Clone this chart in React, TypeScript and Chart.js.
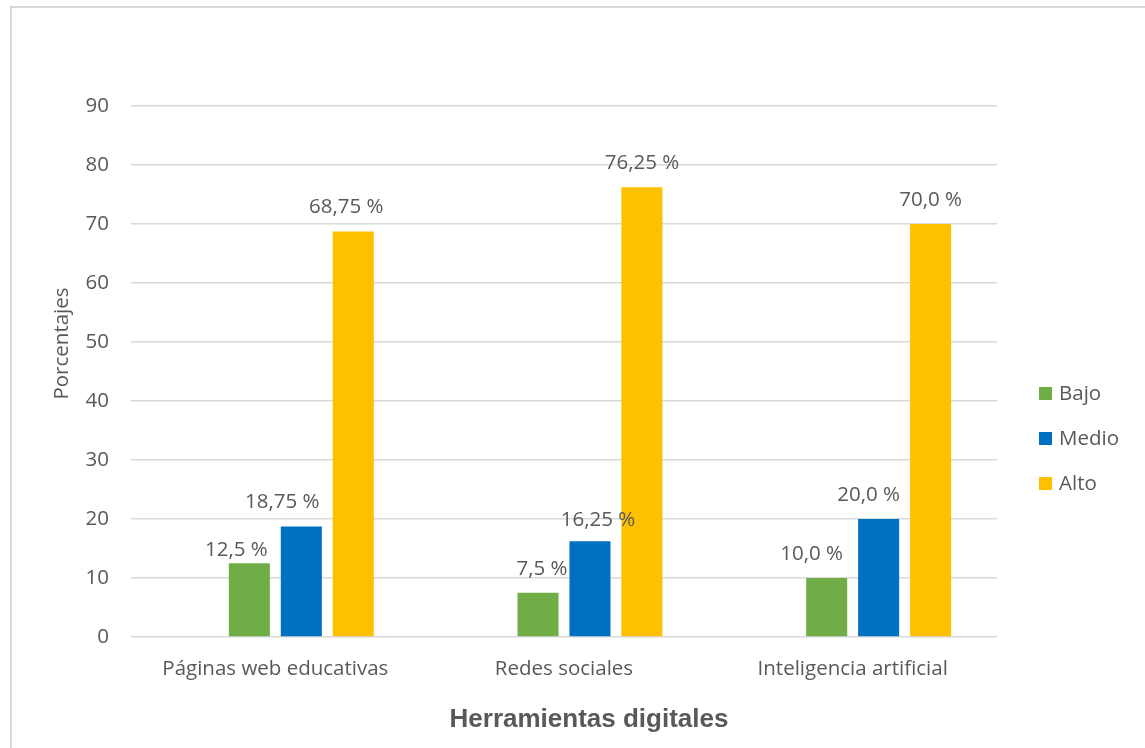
import React, { useEffect, useRef } from "react";
import { Chart, registerables } from "chart.js";

Chart.register(...registerables);

const categories = ["Páginas web educativas", "Redes sociales", "Inteligencia artificial"];
const seriesNames = ["Bajo", "Medio", "Alto"];
const bajo = [12.5, 7.5, 10.0];
const medio = [18.75, 16.25, 20.0];
const alto = [68.75, 76.25, 70.0];
const seriesColors = ["#70AD47", "#0070C0", "#FFC000"];
const yMin = 0;
const yMax = 90;
const yStep = 10;
const yTitle = "Porcentajes";
const xTitle = "Herramientas digitales";

const TEXT = "#595959";
const FONT = "'Open Sans', sans-serif";

function fmt(v: number): string {
  const s = Math.round(v * 100) % 10 !== 0 ? v.toFixed(2) : v.toFixed(1);
  return s.replace(".", ",") + " %";
}

// label nudges [dataset][category] -> [dx, dy]
const labelNudges: number[][][] = [
  [[-13, 11], [4, 0], [-15, 0]],
  [[-19, 0], [8, 3], [-10, 0]],
  [[-7, 0], [0, 0], [0, 0]],
];

const drawPlugin = {
  id: "customText",
  afterDatasetsDraw(chart: any) {
    const ctx = chart.ctx;
    ctx.save();
    ctx.font = `20.5px ${FONT}`;
    ctx.fillStyle = TEXT;
    ctx.textAlign = "center";
    ctx.textBaseline = "alphabetic";
    for (let d = 1; d < chart.data.datasets.length; d++) {
      const meta = chart.getDatasetMeta(d);
      const ds = chart.data.datasets[d];
      meta.data.forEach((el: any, i: number) => {
        const v = ds.data[i];
        if (v == null) return;
        const [dx, dy] = labelNudges[d - 1][i];
        ctx.fillText(fmt(v), el.x + dx, el.y - 18 + dy);
      });
    }
    ctx.restore();
  },
  afterDraw(chart: any) {
    const ctx = chart.ctx;
    const area = chart.chartArea;
    ctx.save();
    // legend
    ctx.font = `20.5px ${FONT}`;
    ctx.textAlign = "left";
    ctx.textBaseline = "alphabetic";
    const baseY = 400;
    seriesNames.forEach((name, i) => {
      const y = baseY + i * 45;
      ctx.fillStyle = seriesColors[i];
      ctx.fillRect(1039, y - 13, 13, 13);
      ctx.fillStyle = TEXT;
      ctx.fillText(name, 1059, y);
    });
    // y title
    ctx.save();
    ctx.translate(67.5, 343.5);
    ctx.rotate(-Math.PI / 2);
    ctx.textAlign = "center";
    ctx.fillStyle = TEXT;
    ctx.fillText(yTitle, 0, 0);
    ctx.restore();
    // x title
    ctx.font = `bold 26px 'Liberation Sans', Arial, sans-serif`;
    ctx.textAlign = "center";
    ctx.fillStyle = TEXT;
    ctx.fillText(xTitle, 589, 727);
    ctx.restore();
  },
};

export default function App() {
  const ref = useRef<HTMLCanvasElement>(null);
  useEffect(() => {
    if (!ref.current) return;
    const chart = new Chart(ref.current, {
      type: "bar",
      data: {
        labels: categories,
        datasets: [
          { label: "", data: [null, null, null], backgroundColor: "transparent" },
          { label: seriesNames[0], data: bajo, backgroundColor: seriesColors[0] },
          { label: seriesNames[1], data: medio, backgroundColor: seriesColors[1] },
          { label: seriesNames[2], data: alto, backgroundColor: seriesColors[2] },
        ] as any,
      },
      options: {
        animation: false,
        responsive: false,
        maintainAspectRatio: false,
        datasets: { bar: { barPercentage: 0.79, categoryPercentage: 0.72 } },
        layout: { padding: { left: 0, right: 148, top: 106, bottom: 0 } },
        plugins: { legend: { display: false }, tooltip: { enabled: false }, title: { display: false } },
        scales: {
          x: {
            grid: { display: false, drawTicks: false },
            border: { display: false },
            ticks: { color: TEXT, font: { family: FONT, size: 20.5 }, padding: 20, maxRotation: 0, autoSkip: false },
            afterFit: (s: any) => { s.height = 111; },
          },
          y: {
            min: yMin,
            max: yMax,
            grid: { color: "#d9d9d9", lineWidth: 1.5, drawTicks: false },
            border: { display: false },
            ticks: { stepSize: yStep, color: TEXT, font: { family: FONT, size: 20.5 }, padding: 22 },
            afterFit: (s: any) => { s.width = 131; },
          },
        },
      },
      plugins: [drawPlugin],
    });
    return () => chart.destroy();
  }, []);
  return (
    <div style={{ position: "fixed", left: 0, top: 0, width: 1145, height: 748, overflow: "hidden", background: "#fff" }}>
      <div style={{ position: "absolute", left: 10, top: 6, width: 1200, height: 800, border: "2px solid #d9d9d9" }} />
      <canvas ref={ref} width={1145} height={748} style={{ position: "absolute", left: 0, top: 0, width: 1145, height: 748 }} />
    </div>
  );
}
